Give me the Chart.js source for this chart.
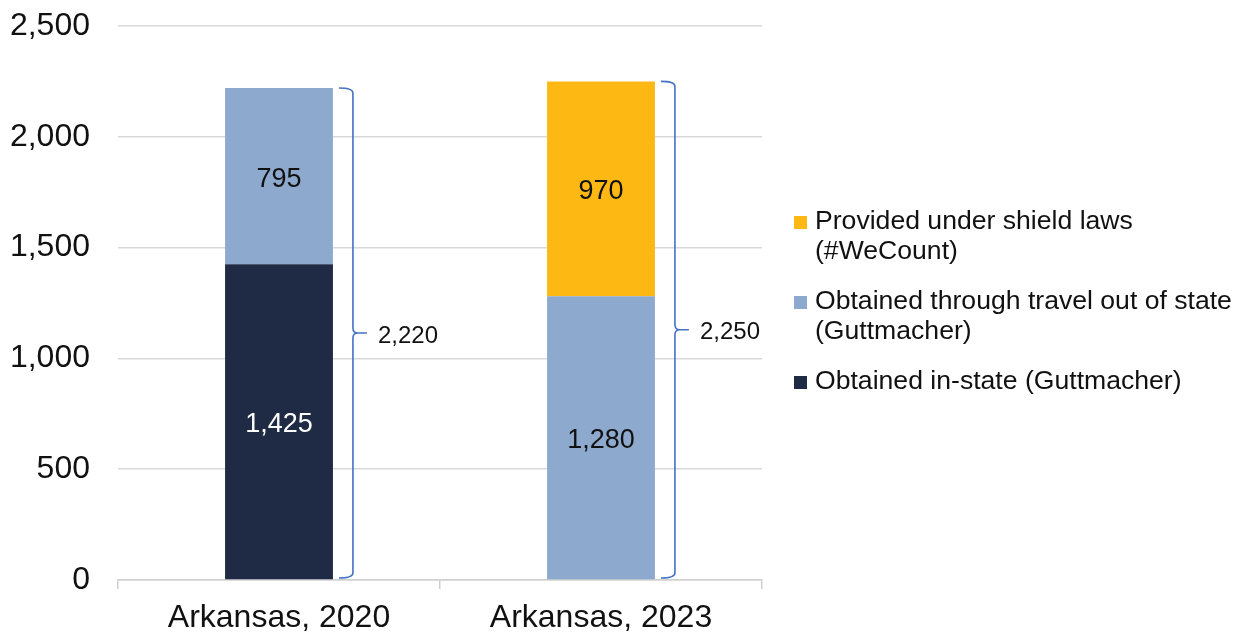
<!DOCTYPE html>
<html>
<head>
<meta charset="utf-8">
<script src="https://cdn.jsdelivr.net/npm/chart.js@4.4.1/dist/chart.umd.min.js"></script>
<style>
html,body{margin:0;padding:0;background:#fff;}
#wrap{width:1244px;height:636px;position:relative;}
</style>
</head>
<body>
<div id="wrap"><canvas id="c" width="1244" height="636"></canvas></div>
<script>
const categories = ["Arkansas, 2020", "Arkansas, 2023"];
const inState = [1425, 0];
const travel = [795, 1280];
const shield = [0, 970];
const seriesNames = ["Obtained in-state (Guttmacher)", "Obtained through travel out of state (Guttmacher)", "Provided under shield laws (#WeCount)"];
const legendLines = [
  ["Provided under shield laws", "(#WeCount)"],
  ["Obtained through travel out of state", "(Guttmacher)"],
  ["Obtained in-state (Guttmacher)"]
];
const yTicks = [0, 500, 1000, 1500, 2000, 2500];

const colors = ["#1F2A44", "#8EA9CE", "#FDB813"];
const labelColors = ["#ffffff", "#111111", "#111111"];
const FONT = "'Liberation Sans', Arial, sans-serif";
const fmt = v => v.toLocaleString("en-US");

const dataLabels = {
  id: "dataLabels",
  afterDatasetsDraw(chart) {
    const ctx = chart.ctx;
    ctx.save();
    ctx.font = "27px " + FONT;
    ctx.textAlign = "center";
    ctx.textBaseline = "middle";
    chart.data.datasets.forEach((ds, di) => {
      const meta = chart.getDatasetMeta(di);
      meta.data.forEach((bar, i) => {
        const v = ds.data[i];
        if (!v) return;
        const y = (bar.y + bar.base) / 2 + 3;
        ctx.fillStyle = labelColors[di];
        ctx.fillText(fmt(v), bar.x, y);
      });
    });
    ctx.restore();
  }
};

const braces = {
  id: "braces",
  afterDatasetsDraw(chart) {
    const ctx = chart.ctx;
    const ys = chart.scales.y;
    const meta0 = chart.getDatasetMeta(0);
    ctx.save();
    categories.forEach((c, i) => {
      const total = chart.data.datasets.reduce((s, ds) => s + (ds.data[i] || 0), 0);
      const bar = meta0.data[i];
      const right = bar.x + bar.width / 2;
      const top = ys.getPixelForValue(total);
      const bottom = ys.getPixelForValue(0) - 2;
      const x0 = right + 6, x1 = right + 20, tip = right + 34;
      const mid = (top + bottom) / 2;
      const r = 5;
      ctx.strokeStyle = "#4472C4";
      ctx.lineWidth = 1.6;
      ctx.beginPath();
      ctx.moveTo(x0, top);
      ctx.quadraticCurveTo(x1, top, x1, top + r);
      ctx.lineTo(x1, mid - r);
      ctx.quadraticCurveTo(x1, mid, x1 + r, mid);
      ctx.lineTo(tip, mid);
      ctx.moveTo(x1 + r, mid);
      ctx.quadraticCurveTo(x1, mid, x1, mid + r);
      ctx.lineTo(x1, bottom - r);
      ctx.quadraticCurveTo(x1, bottom, x0, bottom);
      ctx.stroke();
      ctx.fillStyle = "#111";
      ctx.font = "24px " + FONT;
      ctx.textAlign = "left";
      ctx.textBaseline = "middle";
      ctx.fillText(fmt(total), tip + 11, mid + 3);
    });
    ctx.restore();
  }
};

const legendPlugin = {
  id: "customLegend",
  afterDraw(chart) {
    const ctx = chart.ctx;
    ctx.save();
    ctx.font = "26.6px " + FONT;
    ctx.textBaseline = "middle";
    ctx.textAlign = "left";
    const order = [2, 1, 0];
    let y = 222;
    order.forEach((di, k) => {
      ctx.fillStyle = colors[di];
      ctx.fillRect(794, y - 6, 13, 13);
      ctx.fillStyle = "#111";
      legendLines[k].forEach((line, li) => {
        ctx.fillText(line, 815, y + li * 30);
      });
      y += legendLines[k].length * 30 + 20;
    });
    ctx.restore();
  }
};

new Chart(document.getElementById("c"), {
  type: "bar",
  data: {
    labels: categories,
    datasets: [
      { label: seriesNames[0], data: inState, backgroundColor: colors[0] },
      { label: seriesNames[1], data: travel, backgroundColor: colors[1] },
      { label: seriesNames[2], data: shield, backgroundColor: colors[2] }
    ]
  },
  options: {
    responsive: false,
    animation: false,
    devicePixelRatio: 1,
    layout: { padding: { left: 0, right: 482, top: 26, bottom: 0 } },
    datasets: { bar: { categoryPercentage: 1, barPercentage: 0.335 } },
    plugins: { legend: { display: false }, tooltip: { enabled: false } },
    scales: {
      x: {
        stacked: true,
        afterFit(s) { s.height = 56; s.paddingLeft = 0; s.paddingRight = 0; },
        grid: { drawOnChartArea: false, drawTicks: true, tickLength: 9, color: "#d0d0d0", lineWidth: 1.5, offset: true },
        border: { display: true, color: "#d0d0d0", width: 1.5 },
        ticks: { color: "#111", font: { family: FONT, size: 32 }, padding: 10 }
      },
      y: {
        stacked: true,
        min: 0, max: 2500,
        afterFit(s) { s.width = 118; s.paddingTop = 0; s.paddingBottom = 0; },
        afterBuildTicks(s) { s.ticks = yTicks.map(v => ({ value: v })); },
        grid: { color: "#d9d9d9", lineWidth: 1.5, drawTicks: false },
        border: { display: false },
        ticks: { color: "#111", font: { family: FONT, size: 32 }, padding: 28, callback: v => fmt(v) }
      }
    }
  },
  plugins: [dataLabels, braces, legendPlugin]
});
</script>
</body>
</html>
